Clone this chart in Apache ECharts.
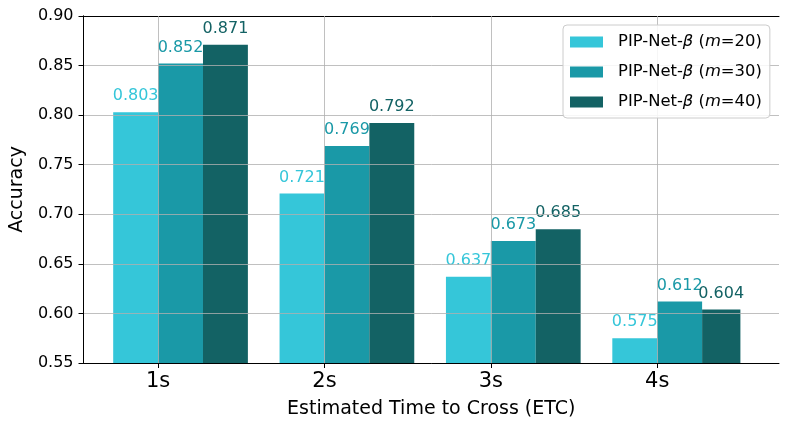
<!DOCTYPE html>
<html>
<head>
<meta charset="utf-8">
<script src="https://cdn.jsdelivr.net/npm/echarts@6/dist/echarts.min.js"></script>
<style>html,body{margin:0;padding:0;background:#fff}#c{width:788px;height:427px}</style>
</head>
<body>
<div id="c"></div>
<script>
const categories = ['1s', '2s', '3s', '4s'];
const seriesNames = ['PIP-Net-β (m=20)', 'PIP-Net-β (m=30)', 'PIP-Net-β (m=40)'];
const m20 = [0.803, 0.721, 0.637, 0.575];
const m30 = [0.852, 0.769, 0.673, 0.612];
const m40 = [0.871, 0.792, 0.685, 0.604];
const yTicks = [0.55, 0.60, 0.65, 0.70, 0.75, 0.80, 0.85, 0.90];

const colors = ['#35c6d9', '#1a99a7', '#136264'];
const values = [m20, m30, m40];
const FONT = 'DejaVu Sans';
const BW = 44.9;
const frameLine = { show: true, lineStyle: { color: '#000', width: 1 } };
const off = { show: false };

const chart = echarts.init(document.getElementById('c'));

const barSeries = values.map((vals, j) => ({
  name: seriesNames[j],
  type: 'bar',
  xAxisIndex: 0, yAxisIndex: 0,
  data: vals,
  barWidth: BW,
  barGap: '0%',
  itemStyle: { color: colors[j] },
  z: 2,
  label: {
    show: true, position: 'top', distance: 8,
    color: colors[j], fontFamily: FONT, fontSize: 16,
    formatter: p => p.value.toFixed(3)
  }
}));

const option = {
  animation: false,
  backgroundColor: '#fff',
  grid: [
    { left: 74.9, right: 47.6, top: 16, bottom: 64, show: false },
    { left: 82, right: 9, top: 16, bottom: 64, show: false }
  ],
  xAxis: [
    {
      type: 'category', gridIndex: 0, data: categories,
      axisLine: off,
      axisTick: { show: true, alignWithLabel: true, length: 5, lineStyle: { color: '#000', width: 1 } },
      axisLabel: { color: '#000', fontFamily: FONT, fontSize: 21, margin: 8 },
      splitLine: off
    },
    {
      type: 'value', gridIndex: 1, min: 0, max: 1, position: 'bottom', z: 4,
      axisLine: frameLine, axisTick: off, axisLabel: off, splitLine: off,
      name: 'Estimated Time to Cross (ETC)', nameLocation: 'middle', nameGap: 37,
      nameTextStyle: { color: '#000', fontFamily: FONT, fontSize: 19 }
    },
    {
      type: 'value', gridIndex: 1, min: 0, max: 1, position: 'top', z: 4,
      axisLine: frameLine, axisTick: off, axisLabel: off, splitLine: off
    }
  ],
  yAxis: [
    {
      type: 'value', gridIndex: 0, min: yTicks[0], max: yTicks[yTicks.length - 1], interval: 0.05,
      show: false
    },
    {
      type: 'value', gridIndex: 1, min: yTicks[0], max: yTicks[yTicks.length - 1], interval: 0.05,
      position: 'left', z: 3,
      axisLine: frameLine,
      axisTick: { show: true, length: 5, lineStyle: { color: '#000', width: 1 } },
      axisLabel: { color: '#000', fontFamily: FONT, fontSize: 16, margin: 10, formatter: v => v.toFixed(2) },
      splitLine: { show: true, lineStyle: { color: '#b0b0b0', width: 0.8 } },
      name: 'Accuracy', nameLocation: 'middle', nameGap: 54,
      nameTextStyle: { color: '#000', fontFamily: FONT, fontSize: 19 }
    },
    {
      type: 'value', gridIndex: 1, min: yTicks[0], max: yTicks[yTicks.length - 1], interval: 0.05,
      position: 'right', z: 4,
      axisLine: frameLine, axisTick: off, axisLabel: off, splitLine: off
    }
  ],
  legend: {
    orient: 'vertical', left: 563, top: 25, z: 20,
    data: seriesNames,
    itemWidth: 33, itemHeight: 11, itemGap: 14,
    padding: [9, 8, 8, 7],
    backgroundColor: 'rgba(255,255,255,0.85)',
    borderColor: '#cccccc', borderWidth: 1, borderRadius: 4,
    icon: 'rect',
    selectedMode: false,
    textStyle: {
      color: '#000', fontFamily: FONT, fontSize: 16.4, padding: [0, 0, 0, 10],
      rich: { i: { fontStyle: 'italic', fontFamily: FONT, fontSize: 16.4, color: '#000' } }
    },
    formatter: n => n.replace('β', '{i|β}').replace('(m=', '({i|m}=')
  },
  series: [
    {
      name: '_spacer', type: 'bar', xAxisIndex: 0, yAxisIndex: 0,
      data: categories.map(() => '-'), barWidth: BW, barGap: '0%'
    },
    ...barSeries,
    {
      name: '_vgrid', type: 'line', xAxisIndex: 0, yAxisIndex: 0,
      data: [], z: 10, silent: true,
      markLine: {
        silent: true, symbol: ['none', 'none'], animation: false,
        label: { show: false },
        lineStyle: { color: '#b0b0b0', width: 0.8, type: 'solid' },
        emphasis: { disabled: true },
        data: categories.map(c => ({ xAxis: c }))
      }
    }
  ]
};
chart.setOption(option);
</script>
</body>
</html>
